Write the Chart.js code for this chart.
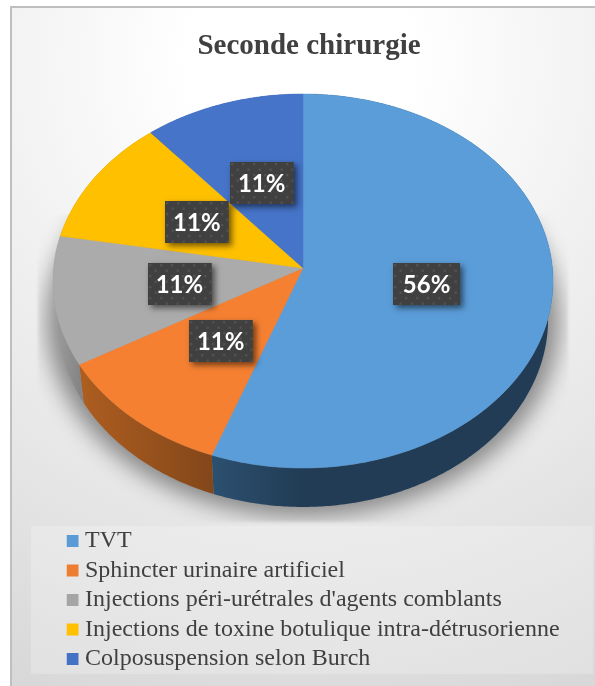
<!DOCTYPE html>
<html><head><meta charset="utf-8">
<style>html,body{margin:0;padding:0;background:#fff}canvas{display:block}</style>
<script src="https://cdn.jsdelivr.net/npm/chart.js@4/dist/chart.umd.min.js"></script>
</head><body><canvas id="c" width="595" height="686"></canvas>
<script>
const categories = ["TVT","Sphincter urinaire artificiel","Injections péri-urétrales d'agents comblants","Injections de toxine botulique intra-détrusorienne","Colposuspension selon Burch"];
const seriesValues = [5,1,1,1,1];
const sliceColors = ["#5B9BD5","#ED7D31","#A5A5A5","#FFC000","#4472C4"];
const topColors = ["#5B9DD9","#F58032","#ABABAB","#FFC000","#4674C8"];
const sideLeft = ["#2C5070","#AE5E20","#989898","#9A7400","#2A4578"];
const sideRight = ["#213C54","#83471A","#858585","#9A7400","#2A4578"];
const titleText = "Seconde chirurgie";

// perspective view of the round pie
const view = {x:303,y:268,rx:249.4,ry:186.1,k:-0.0695};
const floor = {x:303,y:306,rx:244.5,ry:187,k:-0.0695};
function project(v,angle,f){
  const u=Math.cos(angle)*f,w=Math.sin(angle)*f,d=1+v.k*w;
  return [v.x+v.rx*u/d, v.y+v.ry*w/d];
}
function trace(ctx,v,a0,a1,move){
  const n=Math.max(2,Math.ceil(Math.abs(a1-a0)/0.01));
  for(let i=0;i<=n;i++){
    const p=project(v,a0+(a1-a0)*i/n,1);
    if(i===0&&move)ctx.moveTo(p[0],p[1]);else ctx.lineTo(p[0],p[1]);
  }
}
function dotPattern(ctx){
  const t=document.createElement('canvas');t.width=11;t.height=11;
  const g=t.getContext('2d');
  g.fillStyle='#404040';g.fillRect(0,0,11,11);
  g.fillStyle='#515151';
  g.fillRect(1,1,2.4,2.4);g.fillRect(6.5,6.5,2.4,2.4);
  return ctx.createPattern(t,'repeat');
}
const piePainter={
  id:'piePainter',
  beforeDraw(chart){
    const c=chart.ctx;
    c.save();
    c.fillStyle='#fff';c.fillRect(0,0,595,686);
    const g=c.createRadialGradient(300,60,110,300,60,680);
    g.addColorStop(0,'#ffffff');g.addColorStop(1,'#d8d8d8');
    c.fillStyle=g;c.fillRect(11,7,584,679);
    c.fillStyle='#BFBFBF';c.fillRect(10,6,585,2);c.fillRect(10,6,2,680);
    // soft ground shadow, clipped then softened
    const off=document.createElement('canvas');off.width=595;off.height=686;
    const o=off.getContext('2d');
    o.beginPath();o.rect(38,215,530,307);o.clip();
    o.shadowColor='rgba(0,0,0,0.42)';o.shadowBlur=22;o.shadowOffsetX=0;o.shadowOffsetY=820;
    const sh={x:303,y:306-820,rx:256,ry:196,k:-0.0695};
    o.beginPath();trace(o,sh,0,Math.PI*2,true);o.closePath();o.fillStyle='#000';o.fill();
    c.filter='blur(1.5px)';c.drawImage(off,0,0);c.filter='none';
    // legend plate
    c.fillStyle='rgba(255,255,255,0.22)';c.fillRect(31,526,562,148);
    c.restore();
  },
  afterLayout(chart){
    const l=chart.legend;const dx=66.5-l.left,dy=523.5-l.top;
    l.left+=dx;l.right+=dx;l.top+=dy;l.bottom+=dy;
    (l.legendHitBoxes||[]).forEach(h=>{h.left+=dx;h.top+=dy;});
    const t=chart.titleBlock;t.left=23;t.right=595;t.top=23;t.bottom=73;
  },
  beforeDatasetDraw(chart,args){
    const c=chart.ctx,arcs=chart.getDatasetMeta(args.index).data;
    c.save();
    arcs.forEach((arc,i)=>{
      const a0=arc.startAngle,a1=arc.endAngle;
      c.beginPath();trace(c,view,a0,a1,true);trace(c,floor,a1,a0,false);c.closePath();
      const p0=project(view,a0,1),p1=project(view,a1,1);
      const xl=Math.min(p0[0],p1[0]),xr=Math.max(p0[0],p1[0]);
      const g=c.createLinearGradient(xl,0,i===0?303:xr,0);
      g.addColorStop(0,sideLeft[i]);
      g.addColorStop(1,sideRight[i]);
      c.fillStyle=g;c.fill();
    });
    arcs.forEach((arc,i)=>{
      c.beginPath();c.moveTo(view.x,view.y);trace(c,view,arc.startAngle,arc.endAngle,false);c.closePath();
      c.fillStyle=topColors[i];c.fill();
      c.strokeStyle=topColors[i];c.lineWidth=0.5;c.stroke();
    });
    c.restore();
    return false;
  },
  afterDatasetsDraw(chart){
    const c=chart.ctx,arcs=chart.getDatasetMeta(0).data;
    const total=seriesValues.reduce((a,b)=>a+b,0);
    const pat=dotPattern(c);
    c.save();
    c.font='700 24px Lato';c.textAlign='center';c.textBaseline='middle';
    arcs.forEach((arc,i)=>{
      const p=project(view,(arc.startAngle+arc.endAngle)/2,0.5);
      const txt=Math.round(seriesValues[i]/total*100)+'%';
      const w=i===0?67:63.5,h=42;
      const x=Math.round(p[0]-w/2),y=Math.round(p[1]-h/2);
      c.save();
      c.shadowColor='rgba(0,0,0,0.55)';c.shadowBlur=6;c.shadowOffsetX=3;c.shadowOffsetY=3;
      c.fillStyle='#404040';c.fillRect(x,y,w,h);
      c.restore();
      c.save();c.translate(x,y);c.fillStyle=pat;c.fillRect(0,0,w,h);c.restore();
      c.fillStyle='#fff';c.fillText(txt,p[0],p[1]+1);
    });
    c.restore();
  }
};
new Chart(document.getElementById('c'),{
  type:'pie',
  data:{labels:categories,datasets:[{data:seriesValues,backgroundColor:sliceColors,borderWidth:0}]},
  options:{
    responsive:false,animation:false,
    layout:{padding:0},
    plugins:{
      tooltip:{enabled:false},
      title:{display:true,text:titleText,color:'#404040',align:'center',
        font:{family:'"Liberation Serif"',size:29,weight:'bold',lineHeight:1},padding:{top:9,bottom:0}},
      legend:{position:'left',align:'start',maxWidth:595,
        labels:{font:{family:'"Liberation Serif"',size:24,lineHeight:1},color:'#404040',
          boxWidth:1,boxHeight:1,padding:5.5,
          generateLabels(chart){
            return categories.map((t,i)=>({text:t,fillStyle:sliceColors[i],strokeStyle:sliceColors[i],lineWidth:11,index:i,hidden:false,fontColor:'#404040'}));
          }}}
    }
  },
  plugins:[piePainter]
});
</script></body></html>
